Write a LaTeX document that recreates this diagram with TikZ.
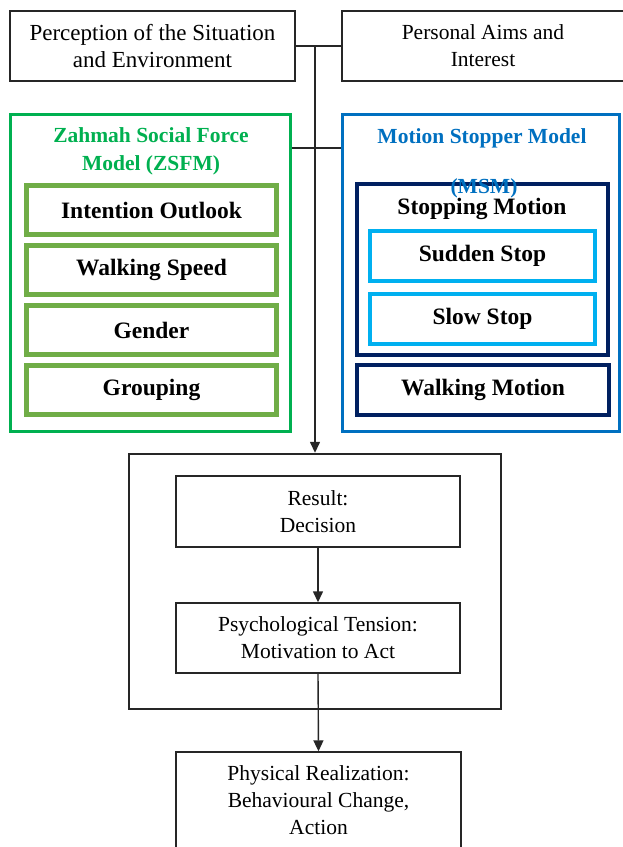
\documentclass[tikz,border=0pt]{standalone}
\usepackage{fontspec}
\setmainfont{Liberation Serif}
\usetikzlibrary{arrows.meta}
\definecolor{zgreen}{HTML}{00B050}
\definecolor{olivegr}{HTML}{70AD47}
\definecolor{mblue}{HTML}{0070C0}
\definecolor{navyb}{HTML}{002060}
\definecolor{lblue}{HTML}{00B0F0}
\definecolor{linegray}{HTML}{262626}
\begin{document}
\begin{tikzpicture}[x=1pt,y=-1pt,
  box/.style={draw=linegray, rectangle, inner sep=0pt, align=center, line width=1.4pt},
  plain/.style={font=\fontsize{21.5}{27}\selectfont},
  big/.style={font=\fontsize{23}{27}\selectfont},
  boldtxt/.style={font=\bfseries\fontsize{23.5}{28}\selectfont},
  title/.style={font=\bfseries\fontsize{21.5}{28}\selectfont, align=center, inner sep=0pt},
  gbox/.style={draw=olivegr, line width=5pt, rectangle, inner sep=0pt, minimum width=250pt, minimum height=49pt, boldtxt},
  sbox/.style={draw=lblue, line width=4pt, rectangle, inner sep=0pt, minimum width=225pt, minimum height=50pt, boldtxt},
  conn/.style={draw=linegray, line width=1.4pt},
  arr/.style={conn, -{Triangle[width=10pt,length=11pt]}}
]
\useasboundingbox (0,0) rectangle (622,847);

% top boxes
\node[box, big, minimum width=285pt, minimum height=70pt] (perc) at (152.5,46) {Perception of the Situation\\and Environment};
\node[box, plain, minimum width=282pt, minimum height=70pt] (pers) at (483,46) {Personal Aims and\\Interest};

% ZSFM
\node[draw=zgreen, line width=3pt, rectangle, minimum width=280pt, minimum height=317pt] (zsfm) at (150.5,273) {};
\node[title, text=zgreen] (ztitle) at (151,151) {Zahmah Social Force\\Model (ZSFM)};
\node[gbox] (intent) at (151.5,210) {Intention Outlook};
\node[gbox] (walk) at (151.5,270) {Walking Speed};
\node[gbox] (gender) at (151.5,330) {Gender};
\node[gbox] (group) at (151.5,390) {Grouping};

% MSM
\node[draw=mblue, line width=3pt, rectangle, minimum width=277pt, minimum height=317pt] (msm) at (481,273) {};
\node[title, text=mblue] (mtitle) at (482,138) {Motion Stopper Model};
\node[draw=navyb, line width=4pt, rectangle, minimum width=251pt, minimum height=171pt] (stop) at (482.5,269.5) {};
\node[boldtxt, inner sep=0pt] (stoptxt) at (482,209) {Stopping Motion};
\node[sbox] (sudden) at (482.5,255.5) {Sudden Stop};
\node[sbox] (slow) at (482.5,319) {Slow Stop};
\node[draw=navyb, line width=4pt, rectangle, inner sep=0pt, minimum width=252pt, minimum height=50pt, boldtxt] (walkm) at (483,390) {Walking Motion};
\node[title, text=mblue] (msmabbr) at (484,188) {(MSM)};

% bottom part
\node[draw=linegray, line width=2.4pt, rectangle, minimum width=372pt, minimum height=255pt] (bigbox) at (315,581.5) {};
\node[box, plain, minimum width=284pt, minimum height=71pt] (result) at (318,511.5) {Result:\\Decision};
\node[box, plain, minimum width=284pt, minimum height=70pt] (psych) at (318,638) {Psychological Tension:\\Motivation to Act};
\node[box, plain, minimum width=285pt, minimum height=97pt] (phys) at (318.5,800.5) {Physical Realization:\\Behavioural Change,\\Action};

% connectors
\coordinate (j1) at (315,46);
\coordinate (h2) at (0,148);
\draw[conn] (perc.east) -- (pers.west);
\draw[conn] (zsfm.east |- h2) -- (msm.west |- h2);
\draw[arr] (j1) -- (bigbox.north);
\draw[arr] (result.south) -- (psych.north);
\draw[arr] (psych.south) -- (phys.north);
\end{tikzpicture}
\end{document}
